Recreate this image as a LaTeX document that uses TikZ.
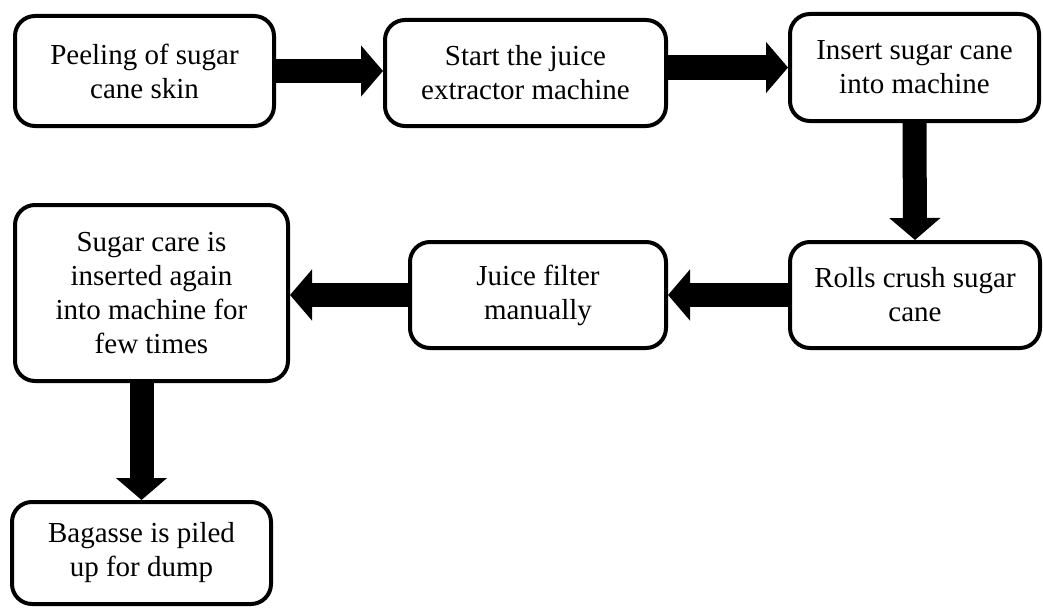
\documentclass[tikz,border=0pt]{standalone}
\usepackage{fontspec}
\setmainfont{Liberation Serif}
\usetikzlibrary{arrows.meta}

\tikzset{
	stepbox/.style={draw, line width=4pt, rounded corners=20pt, align=center, inner sep=0pt,
		font=\fontsize{29}{34}\selectfont},
	flow/.style={line width=24pt, -{Triangle[width=50pt,length=22pt]}}
}

\begin{document}
\begin{tikzpicture}[x=1pt,y=-1pt]
		\useasboundingbox (0,0) rectangle (1043,610);
		\node[stepbox, minimum width=259pt, minimum height=110pt] (peel) at (144.5,71) {Peeling of sugar\\cane skin};
		\node[stepbox, minimum width=281pt, minimum height=106pt] (start) at (525.5,73) {Start the juice\\extractor machine};
		\node[stepbox, minimum width=249pt, minimum height=107pt] (insert) at (914.5,67.5) {Insert sugar cane\\into machine};
		\node[stepbox, minimum width=250pt, minimum height=106pt] (rolls) at (915,295) {Rolls crush sugar\\cane};
		\node[stepbox, minimum width=256pt, minimum height=106pt] (filter) at (538,295) {Juice filter\\manually};
		\node[stepbox, minimum width=273pt, minimum height=176pt] (again) at (151.5,293) {Sugar care is\\inserted again\\into machine for\\few times};
		\node[stepbox, minimum width=259pt, minimum height=102pt] (dump) at (141.5,553) {Bagasse is piled\\up for dump};
		%Arrows
		\draw[flow] (peel.east) -- (peel.east -| start.west);
		\draw[flow] (insert.west -| start.east) -- (insert.west);
		\draw[flow] (insert.south) -- (rolls.north);
		\draw[flow] (rolls.west) -- (filter.east);
		\draw[flow] (filter.west) -- (filter.west -| again.east);
		\draw[flow] (again.south -| dump.north) -- (dump.north);
	\end{tikzpicture}
\end{document}
